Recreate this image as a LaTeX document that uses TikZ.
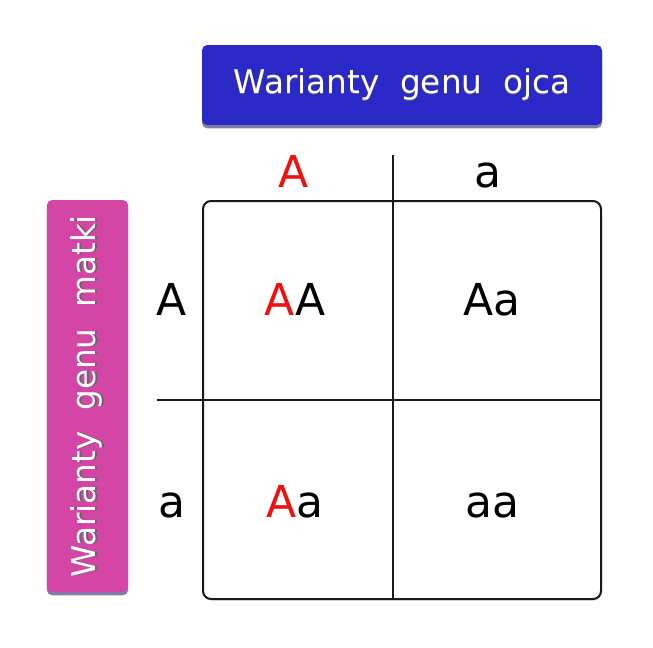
\documentclass[tikz,border=0pt]{standalone}
\usepackage{fontspec}
\setmainfont{DejaVu Sans}
\usetikzlibrary{shadows}

\definecolor{ojciec}{HTML}{2A28C6}
\definecolor{matka}{HTML}{D446A6}
\definecolor{czerwony}{HTML}{EE1111}

% white text with a dark shade under it
\newcommand{\cienie}[1]{\makebox[0pt][l]{\raisebox{-1.3pt}{\color{black!60}#1}}{\color{white}#1}}

\tikzset{
  button/.style={rounded corners=4pt, inner sep=0pt,
    font=\fontsize{24.5}{24.5}\selectfont,
    drop shadow={shadow xshift=0pt, shadow yshift=-2.5pt, opacity=0.5, fill=black!70!blue}},
  gene/.style={inner sep=0pt, anchor=base, font=\fontsize{33}{33}\selectfont},
  siatka/.style={line width=1.5pt, black!90},
}

\begin{document}
\begin{tikzpicture}[x=0.75pt, y=-0.75pt]
  \useasboundingbox (0,0) rectangle (653,647);

  % Buttons
  \node[button, fill=ojciec, minimum width=300pt, minimum height=60pt] (ojca) at (402,85)
    {\cienie{Warianty\ \ genu\ \ ojca}};
  \node[button, fill=matka, rotate=90, minimum width=294pt, minimum height=61pt] (matki) at (87.5,396)
    {\cienie{Warianty\ \ genu\ \ matki}};

  % Frame and dividers
  \draw[siatka, rounded corners=6pt, drop shadow={shadow xshift=0.8pt, shadow yshift=-1.2pt, opacity=0.25}, fill=white]
    (203,201) rectangle (601,599);
  \coordinate (pionG) at (393,155);
  \coordinate (pionD) at (393,599);
  \coordinate (poziomL) at (157,400);
  \coordinate (poziomP) at (601,400);
  \draw[siatka] (pionG) -- (pionD);
  \draw[siatka] (poziomL) -- (poziomP);

  % Father alleles
  \node[gene, czerwony] (oA) at (294,187) {A};
  \node[gene] (oa) at (488,187) {a};

  % Mother alleles
  \node[gene] (mA) at (172,315) {A};
  \node[gene] (ma) at (172,517) {a};

  % Offspring
  \node[gene] (AA) at (295,315) {\textcolor{czerwony}{A}A};
  \node[gene] (Aa1) at (492,315) {Aa};
  \node[gene] (Aa2) at (295,517) {\textcolor{czerwony}{A}a};
  \node[gene] (aa) at (492,517) {aa};
\end{tikzpicture}
\end{document}
